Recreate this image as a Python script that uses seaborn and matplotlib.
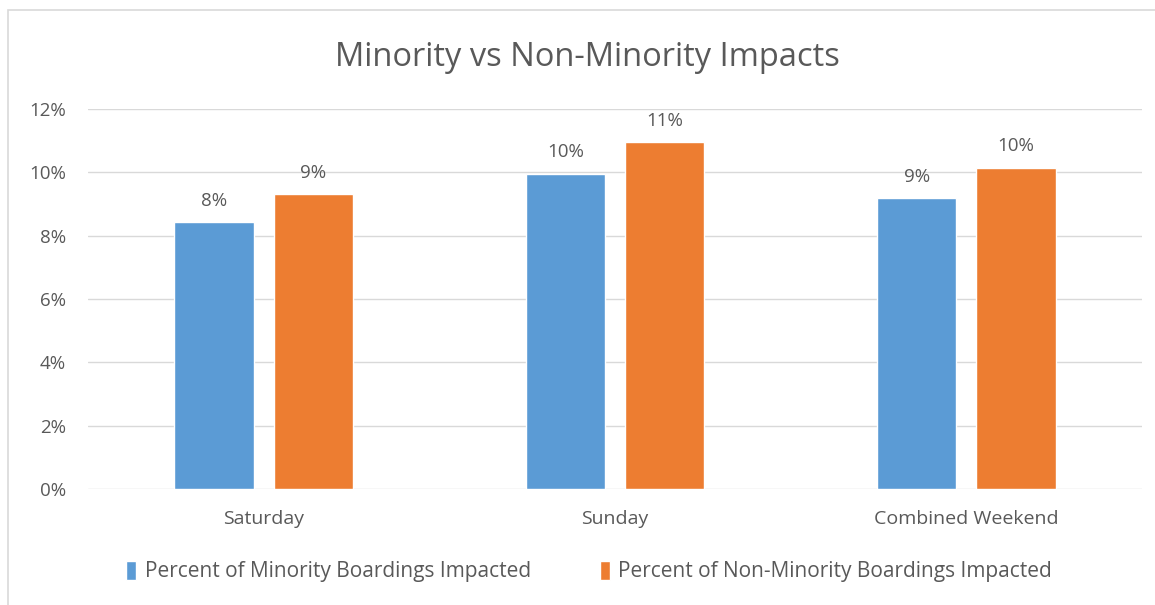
import numpy as np
import pandas as pd
import matplotlib
matplotlib.use("Agg")
import matplotlib.pyplot as plt
from matplotlib.ticker import PercentFormatter
from matplotlib.patches import Rectangle
import seaborn as sns

# ============================
# Data
# ============================
days = ["Saturday", "Sunday", "Combined Weekend"]
minority = [0.0842, 0.0995, 0.0919]
non_minority = [0.0931, 0.1095, 0.1014]
series_names = ["Percent of Minority Boardings Impacted",
                "Percent of Non-Minority Boardings Impacted"]
colors = ["#5b9bd5", "#ed7d31"]

df = pd.DataFrame({
    "Day": days * 2,
    "Series": [series_names[0]] * 3 + [series_names[1]] * 3,
    "Value": minority + non_minority,
})

sns.set_style("white")
plt.rcParams['font.family'] = ['Open Sans', 'DejaVu Sans']
text_col = "#595959"

fig = plt.figure(figsize=(11.55, 6.05), dpi=100)
ax = fig.add_axes([0.0762, 0.1917, 0.9125, 0.6281])

# chart border
fig.patches.append(Rectangle((8 / 1155, -0.01), 1.0, 1 - 10 / 605 + 0.01,
                             transform=fig.transFigure, fill=False,
                             edgecolor="#d9d9d9", lw=1.2))

sns.barplot(data=df, x="Day", y="Value", hue="Series", palette=colors,
            width=0.566, gap=0.2, ax=ax, saturation=1, legend=True)

for cont in ax.containers:
    ax.bar_label(cont, labels=[f"{v:.0%}" for v in cont.datavalues],
                 padding=9, color=text_col, fontsize=13.5)

ax.set_ylim(0, 0.12)
ax.set_yticks(np.arange(0, 0.121, 0.02))
ax.yaxis.set_major_formatter(PercentFormatter(xmax=1, decimals=0))
ax.set_xlim(-0.5, 2.5)
ax.grid(axis="y", color="#d9d9d9", lw=1)
ax.set_axisbelow(True)
ax.tick_params(axis="both", length=0, colors=text_col, labelsize=13.5)
ax.tick_params(axis="x", labelsize=14, pad=15)
ax.tick_params(axis="y", pad=16)
sns.despine(ax=ax, left=True, bottom=True, top=True, right=True)
ax.set_xlabel("")
ax.set_ylabel("")

fig.text(0.509, 0.905, "Minority vs Non-Minority Impacts", ha="center",
         va="center", fontsize=23.5, color=text_col)

ax.legend(loc="center", bbox_to_anchor=(0.51, 0.055),
          bbox_transform=fig.transFigure, ncol=2, frameon=False,
          handlelength=0.5, handleheight=1.0, handletextpad=0.4,
          columnspacing=3.3, fontsize=15, labelcolor=text_col)

fig.savefig("out.png", dpi=100)
